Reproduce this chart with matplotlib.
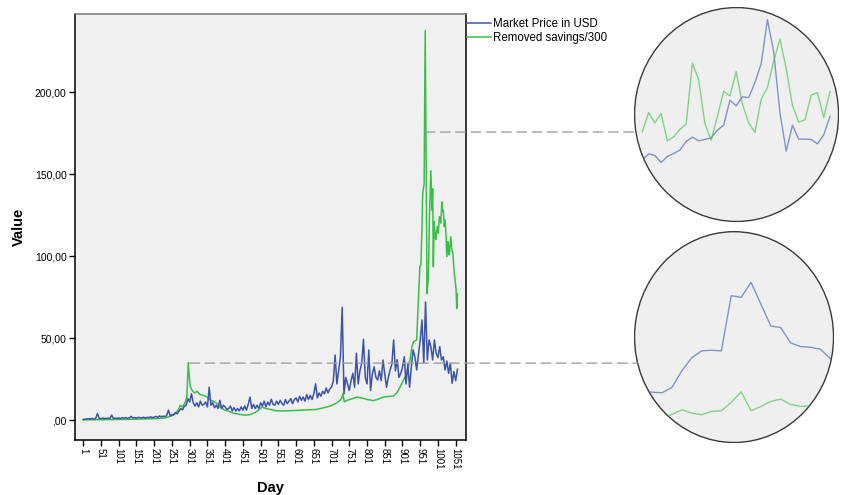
import numpy as np
import matplotlib
matplotlib.use("Agg")
import matplotlib.pyplot as plt
from matplotlib.patches import Ellipse, ConnectionPatch

plt.rcParams['font.family'] = ['Liberation Sans', 'DejaVu Sans']

# Market price, one value every 5 days starting at day 1
price_vals = (
    # days 1-96
    [0.3, 0.5, 0.6, 0.8, 0.7, 0.9, 0.6, 1.0, 4.0, 1.0, 0.8, 1.2, 0.9, 1.0, 1.1, 0.8, 3.0, 0.9, 1.1, 1.0]
    # days 101-196
    + [1.2, 0.9, 1.4, 1.1, 1.5, 1.0, 1.3, 2.2, 1.2, 1.5, 1.1, 1.6, 1.4, 1.3, 1.7, 1.2, 1.6, 1.5, 1.9, 1.4]
    # days 201-296
    + [1.8, 2.2, 1.6, 2.5, 1.9, 2.4, 2.0, 2.8, 6.0, 2.6, 3.3, 3.0, 4.5, 3.8, 5.5, 7.0, 6.2, 8.5, 9.0, 13.0]
    # days 301-396
    + [11.0, 16.0, 10.5, 8.5, 10.5, 8.0, 11.5, 9.0, 9.5, 11.0, 8.0, 20.0, 9.0, 10.5, 7.5, 9.0, 7.0, 12.0, 7.0, 9.0]
    # days 401-496
    + [8.0, 6.5, 7.0, 8.5, 5.5, 7.5, 5.5, 7.0, 5.5, 8.0, 6.0, 8.5, 6.0, 9.5, 14.0, 7.0, 9.5, 7.0, 9.0, 7.0]
    # days 501-596
    + [10.5, 8.5, 11.5, 8.0, 11.0, 9.0, 12.7, 9.5, 9.0, 11.5, 9.5, 12.0, 10.0, 9.0, 12.5, 10.0, 11.5, 13.0, 10.0, 12.5]
    # days 601-696
    + [13.5, 11.0, 14.5, 12.0, 14.0, 11.5, 15.5, 12.5, 15.0, 12.5, 16.0, 22.0, 13.5, 16.5, 14.5, 17.5, 16.0, 19.5, 16.5, 19.0]
    # days 701-796
    + [20.0, 24.0, 39.6, 22.0, 30.0, 38.6, 68.7, 16.0, 26.0, 22.0, 18.0, 24.0, 28.5, 20.0, 40.7, 22.0, 30.0, 34.6, 49.2, 26.0]
    # days 801-896
    + [22.0, 42.7, 18.0, 28.0, 32.5, 26.0, 24.4, 30.0, 24.0, 36.6, 28.0, 20.0, 26.0, 30.5, 34.0, 48.8, 30.0, 36.8, 26.0, 28.5]
    # days 901-996
    + [32.0, 38.6, 22.0, 34.0, 20.0, 32.5, 42.7, 38.6, 30.5, 40.0, 48.8, 61.0, 34.6, 72.0, 36.6, 48.8, 44.7, 36.6, 48.8, 40.7]
    # days 1001-1056
    + [38.0, 44.7, 36.6, 38.6, 30.5, 36.0, 28.5, 34.6, 22.4, 29.5, 24.0, 31.0]
)
price_days = 1 + 5 * np.arange(len(price_vals))

# Removed savings / 300 (smoother series, read at its turning points)
savings_days = [1, 50, 100, 150, 200, 230, 250, 262, 270, 274, 280, 288, 293, 297, 300, 303,
                308, 315, 322, 330, 340, 350, 359, 367, 375, 386, 400, 410, 423, 440, 457, 470,
                485, 495, 505, 515, 527, 540, 555, 580, 612, 640, 659, 680, 697, 712, 725, 730,
                733, 737, 745, 760, 772, 785, 800, 818, 830, 847, 860, 875, 885, 894, 903, 913,
                922, 928, 932, 941, 946, 950, 953, 956, 958, 962, 965, 968, 970, 974, 977, 981,
                984, 986, 988, 990, 993, 995, 999, 1002, 1005, 1009, 1012, 1014, 1016, 1019, 1021, 1024,
                1026, 1029, 1031, 1033, 1037, 1040, 1043, 1047, 1050, 1052, 1054, 1056]
savings_vals = [0.1, 0.2, 0.3, 0.5, 0.8, 1.2, 2.5, 4.5, 6.5, 9.0, 8.0, 10.5, 14.0, 35.0, 26.0, 20.0,
                18.0, 16.5, 17.5, 15.5, 15.0, 14.0, 12.0, 11.5, 10.5, 8.0, 6.0, 5.5, 4.2, 3.5, 3.0, 3.2,
                4.5, 6.0, 8.0, 7.0, 6.5, 5.8, 5.5, 5.6, 6.0, 6.2, 6.5, 7.5, 8.5, 10.0, 12.0, 13.5,
                16.0, 11.0, 12.0, 13.0, 14.0, 13.5, 12.6, 11.8, 12.5, 14.0, 14.3, 14.6, 16.5, 20.0, 24.0, 28.5,
                36.6, 45.0, 47.7, 48.8, 74.0, 93.5, 95.0, 118.0, 138.0, 144.0, 237.4, 150.0, 77.0, 87.0, 124.0, 152.0,
                128.0, 141.0, 93.5, 121.0, 112.0, 110.0, 118.0, 114.0, 124.0, 120.0, 133.0, 127.0, 128.0, 118.0, 122.0, 112.0,
                99.6, 108.7, 104.0, 100.6, 111.8, 104.0, 101.6, 89.4, 84.0, 80.0, 68.0, 77.0]

x_ticks = list(range(1, 1052, 50))
y_ticks = [0, 50, 100, 150, 200]
y_ticklabels = [',00', '50,00', '100,00', '150,00', '200,00']

# magnified views shown in the two circles
zoom_top_price = [18.6, 20.5, 20.0, 17.9, 19.7, 20.6, 21.6, 24.2, 25.5, 24.4, 24.8, 25.3, 27.6, 29.1, 36.6, 34.9,
                  37.6, 37.4, 41.9, 47.6, 60.8, 51.1, 32.8, 21.3, 29.1, 24.9, 24.9, 24.8, 23.5, 26.2, 31.7]
zoom_top_savings = [27.1, 32.9, 29.8, 32.6, 24.4, 25.6, 27.8, 29.4, 47.7, 42.8, 29.6, 24.5, 31.8, 39.3, 37.9, 45.2,
                    35.4, 29.8, 26.9, 36.9, 40.4, 48.3, 55.0, 46.1, 35.0, 30.0, 30.7, 38.1, 38.9, 31.4, 39.2]
zoom_bot_price = [15.4, 15.3, 15.1, 16.7, 21.7, 25.6, 27.7, 27.9, 27.7, 44.3, 43.8, 48.3, 41.7, 35.2, 34.7, 30.1,
                  29.0, 28.8, 28.2, 25.4, 23.0]
zoom_bot_savings = [6.5, 6.5, 7.2, 8.6, 10.0, 9.0, 8.5, 9.5, 9.7, 12.2, 15.4, 9.7, 11.0, 12.5, 13.2, 11.6,
                    11.0, 11.2, 11.0, 10.5, 10.0]

BLUE = '#3d53a9'
GREEN = '#3bbd4a'

fig = plt.figure(figsize=(8.65, 4.95), dpi=100)
ax = fig.add_axes([0.0867, 0.1111, 0.4520, 0.8606])
ax.set_facecolor('#f0f0f0')

ax.plot(price_days, price_vals, color=BLUE, lw=1.1, label='Market Price in USD', zorder=3)
ax.plot(savings_days, savings_vals, color=GREEN, lw=1.1, label='Removed savings/300', zorder=2)

ax.set_xlim(-22.4, 1080)
ax.set_ylim(-12.2, 247.6)
ax.set_xticks(x_ticks)
ax.set_xticklabels([str(t) for t in x_ticks], rotation=-90, fontsize=7)
ax.set_yticks(y_ticks)
ax.set_yticklabels(y_ticklabels, fontsize=7.5)
ax.tick_params(direction='out', length=4.5, width=1, colors='black', pad=1.5)
for side in ['left', 'bottom', 'right']:
    ax.spines[side].set_color('black')
    ax.spines[side].set_linewidth(1.1)
ax.spines['top'].set_color('#7a7a7a')
ax.spines['top'].set_linewidth(1.1)

fig.text(0.0214, 0.541, 'Value', rotation=90, fontsize=10.5, fontweight='bold', ha='center', va='center')
fig.text(0.313, 0.014, 'Day', fontsize=10.5, fontweight='bold', ha='center', va='center')

ax.legend(loc='upper left', bbox_to_anchor=(1.0, 0.993), frameon=False, fontsize=8.3,
          handlelength=2.1, handletextpad=0.15, borderaxespad=0.0, borderpad=0.1,
          labelspacing=0.2)


def circle_view(rect, xs, series, xlim, ylim):
    iax = fig.add_axes(rect)
    iax.set_axis_off()
    iax.set_xlim(*xlim)
    iax.set_ylim(*ylim)
    circ = Ellipse((0.5, 0.5), 0.995, 0.995, transform=iax.transAxes,
                   facecolor='#efefef', edgecolor='#3a3a3a', lw=1.0, zorder=0)
    iax.add_patch(circ)
    for vals, col in series:
        ln, = iax.plot(xs[:len(vals)], vals, color=col, lw=1.0, alpha=0.6, zorder=1)
        ln.set_clip_path(circ)
    return iax


top_ax = circle_view([0.733, 0.5515, 0.237, 0.4343], np.arange(len(zoom_top_price)),
                     [(zoom_top_price, BLUE), (zoom_top_savings, GREEN)],
                     (-1.33, 31.45), (0, 64.6))
bot_ax = circle_view([0.733, 0.105, 0.2312, 0.428], np.arange(-1, len(zoom_bot_price) - 1),
                     [(zoom_bot_price, BLUE), (zoom_bot_savings, GREEN)],
                     (-1.82, 18.38), (0, 63.7))

# dashed connectors from the chart to each magnified view
early = [(d, v) for d, v in zip(savings_days, savings_vals) if d < 400]
peak_day, peak_val = max(early, key=lambda p: p[1])
for xy, iax, yb in [((965, 175.6), top_ax, 0.4186), ((peak_day + 4, peak_val - 0.3), bot_ax, 0.377)]:
    xb = 0.5 - 0.5 * np.sqrt(1 - (2 * (yb - 0.5)) ** 2)
    con = ConnectionPatch(xyA=xy, coordsA='data', axesA=ax, xyB=(xb, yb), coordsB='axes fraction',
                          axesB=iax, color='#a0a0a0', lw=1.0, linestyle=(0, (7, 4)))
    fig.add_artist(con)

fig.savefig('out.png', dpi=100)
